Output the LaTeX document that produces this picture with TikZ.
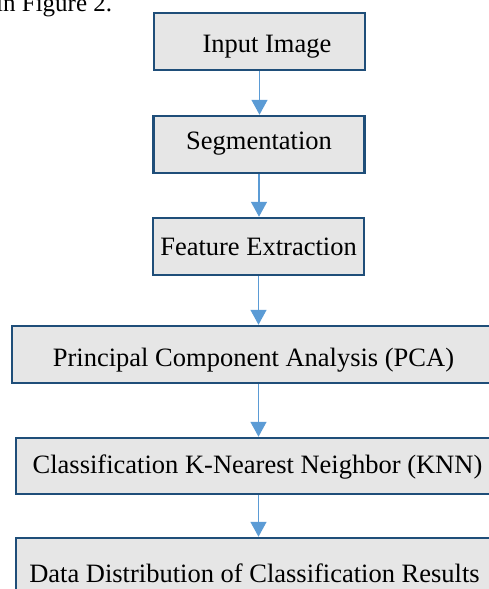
\documentclass[tikz,border=0pt]{standalone}
\usepackage{fontspec}
\setmainfont{Liberation Serif}
\usetikzlibrary{arrows.meta}
\definecolor{boxborder}{HTML}{1F4E79}
\definecolor{boxfill}{HTML}{E6E6E6}
\definecolor{arrowblue}{HTML}{5B9BD5}
\begin{document}
\begin{tikzpicture}[x=1pt,y=-1pt,
  flowbox/.style={draw=boxborder,fill=boxfill,line width=2.5pt,inner sep=0pt,
    font=\fontsize{26.5}{30}\selectfont,text=black,text depth=0pt},
  flowarrow/.style={draw=arrowblue,line width=1.5pt,-{Triangle[width=16pt,length=15pt]}}]
\useasboundingbox (0,0) rectangle (489,589);
\clip (0,0) rectangle (489,589);
\node[anchor=base west,font=\fontsize{25}{30}\selectfont,inner sep=0pt] (prev) at (-4,11) {in Figure 2.};
\node[flowbox,minimum width=211pt,minimum height=57pt,text height=21pt] (a) at (259.5,41.5) {\hspace*{15pt}Input Image};
\node[flowbox,minimum width=211pt,minimum height=57pt,text height=9pt] (b) at (259,144.5) {Segmentation};
\node[flowbox,minimum width=211pt,minimum height=57pt,text height=17pt] (c) at (258.5,246.5) {Feature Extraction};
\node[flowbox,minimum width=483pt,minimum height=57pt,text height=24pt] (d) at (253.5,354.5) {Principal Component Analysis (PCA)};
\node[flowbox,minimum width=483pt,minimum height=56pt,text height=14pt] (e) at (257.5,466) {Classification K-Nearest Neighbor (KNN)};
\node[flowbox,minimum width=477pt,minimum height=70pt,text height=18pt] (f) at (254.5,573) {Data Distribution of Classification Results};
\draw[flowarrow] (a.south) -- (a.south |- b.north);
\draw[flowarrow] (b.south) -- (b.south |- c.north);
\draw[flowarrow] (c.south) -- (c.south |- d.north);
\draw[flowarrow] (d.south -| c.south) -- (e.north -| c.south);
\draw[flowarrow] (e.south -| c.south) -- (f.north -| c.south);
\end{tikzpicture}
\end{document}
